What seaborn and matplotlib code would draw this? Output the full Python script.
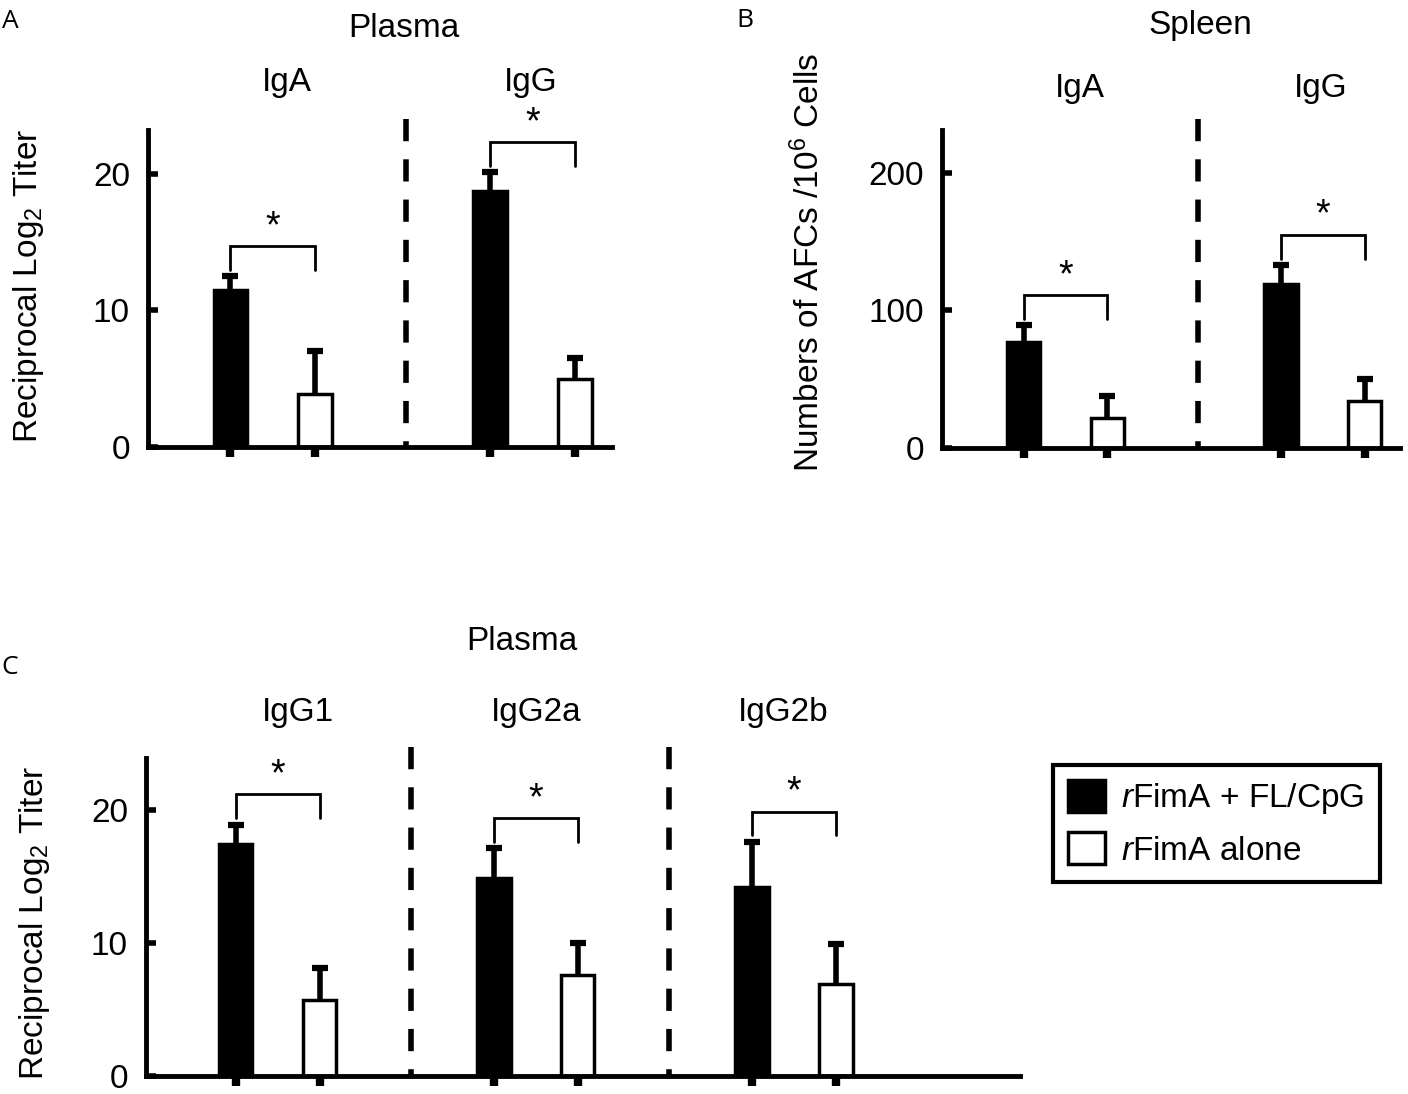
import matplotlib
matplotlib.use("Agg")
import matplotlib.pyplot as plt
import matplotlib.transforms as mtransforms
from matplotlib.container import BarContainer
import numpy as np
import pandas as pd
import seaborn as sns

W, H = 1408, 1094

combo = r"$\mathit{r}$FimA + FL/CpG"
alone = r"$\mathit{r}$FimA alone"
treatments = [combo, alone]

# A: plasma, reciprocal log2 titer
isotypes = ["IgA", "IgG"]
plasma_combo = [11.5, 18.7]
plasma_combo_err = [1.0, 1.4]
plasma_alone = [3.9, 5.0]
plasma_alone_err = [3.1, 1.5]

# B: spleen, AFCs per 10^6 cells
spleen_combo = [77, 119]
spleen_combo_err = [12, 14]
spleen_alone = [22, 34]
spleen_alone_err = [16, 16]

# C: plasma IgG subclasses
subclasses = ["IgG1", "IgG2a", "IgG2b"]
sub_combo = [17.4, 14.9, 14.2]
sub_combo_err = [1.5, 2.2, 3.4]
sub_alone = [5.7, 7.6, 6.9]
sub_alone_err = [2.4, 2.4, 3.0]


def px(x, y):
    return x / W, 1 - y / H


def add_axes(fig, left, top, right, bottom):
    return fig.add_axes([left / W, 1 - bottom / H, (right - left) / W, (bottom - top) / H])


def bar_containers(ax):
    return [c for c in ax.containers if isinstance(c, BarContainer)]


def draw_panel(ax, groups, combo_vals, combo_err, alone_vals, alone_err, ymax, yticks, xlim):
    df = pd.DataFrame({
        "group": groups * 2,
        "treatment": [combo] * len(groups) + [alone] * len(groups),
        "value": list(combo_vals) + list(alone_vals),
    })
    sns.barplot(data=df, x="group", y="value", hue="treatment", order=groups,
                hue_order=treatments, palette={combo: "black", alone: "white"},
                edgecolor="black", linewidth=2.5, width=0.65, gap=0.6,
                saturation=1, errorbar=None, legend=False, ax=ax)

    centers, tops = [], []
    for cont, vals, errs in zip(bar_containers(ax), [combo_vals, alone_vals], [combo_err, alone_err]):
        xs = [b.get_x() + b.get_width() / 2 for b in cont]
        eb = ax.errorbar(xs, vals, yerr=[np.zeros(len(errs)), errs], fmt="none",
                         ecolor="black", elinewidth=4, capsize=6, capthick=4.5,
                         zorder=3, clip_on=False)
        eb[1][0].set_visible(False)  # upper error only, no cap at the bar top
        centers.append(xs)
        tops.append(np.add(vals, errs))

    # significance brackets
    for i in range(len(groups)):
        x0, x1 = centers[0][i], centers[1][i]
        base = max(tops[0][i], tops[1][i]) + 0.02 * ymax
        top = base + 0.075 * ymax
        ax.plot([x0, x0, x1, x1], [base, top, top, base], color="black", lw=2,
                clip_on=False, solid_joinstyle="miter")
        ax.text((x0 + x1) / 2, top + 0.028 * ymax, "*", ha="center", va="baseline",
                fontsize=27, clip_on=False)

    # dashed separators
    for i in range(len(groups) - 1):
        ax.plot([i + 0.515] * 2, [ymax * 1.035, 0], color="black", lw=4,
                ls=(0, (4, 3.25)), clip_on=False)

    ax.set_xlim(*xlim)
    ax.set_ylim(0, ymax)
    ax.set_yticks(yticks)
    ax.set_xticks(sorted(centers[0] + centers[1]), labels=[""] * (2 * len(groups)))
    ax.set_xlabel("")
    ax.set_ylabel("")
    ax.tick_params(axis="y", direction="in", length=7, width=4, labelsize=24, pad=13)
    ax.tick_params(axis="x", direction="out", length=7, width=6)
    sns.despine(ax=ax)
    for side in ("left", "bottom"):
        ax.spines[side].set_linewidth(3.5)


def group_labels(fig, ax, labels, shifts, baseline):
    trans = mtransforms.blended_transform_factory(ax.transData, fig.transFigure)
    for i, (lab, s) in enumerate(zip(labels, shifts)):
        ax.text(i + s, 1 - baseline / H, lab, transform=trans, ha="center",
                va="baseline", fontsize=24)


def main():
    sns.set_theme(style="ticks")
    plt.rcParams["font.family"] = ["Liberation Sans", "DejaVu Sans"]
    plt.rcParams["mathtext.fontset"] = "custom"
    plt.rcParams["mathtext.rm"] = "Liberation Sans"
    plt.rcParams["mathtext.it"] = "Liberation Sans:italic"
    for key in ("text.color", "axes.labelcolor", "xtick.color", "ytick.color", "axes.edgecolor"):
        plt.rcParams[key] = "black"

    fig = plt.figure(figsize=(W / 100, H / 100), dpi=100)

    ax_a = add_axes(fig, 148, 130, 612, 447)
    draw_panel(ax_a, isotypes, plasma_combo, plasma_combo_err, plasma_alone,
               plasma_alone_err, 23.2, [0, 10, 20], (-0.48, 1.306))

    ax_b = add_axes(fig, 942, 130, 1400, 448)
    draw_panel(ax_b, isotypes, spleen_combo, spleen_combo_err, spleen_alone,
               spleen_alone_err, 231, [0, 100, 200], (-0.48, 1.30))

    ax_c = add_axes(fig, 146, 758, 1020, 1076)
    draw_panel(ax_c, subclasses, sub_combo, sub_combo_err, sub_alone,
               sub_alone_err, 23.9, [0, 10, 20], (-0.51, 2.876))

    fig.text(*px(404, 37), "Plasma", ha="center", va="baseline", fontsize=24)
    fig.text(*px(1200, 34), "Spleen", ha="center", va="baseline", fontsize=24)
    fig.text(*px(522, 650), "Plasma", ha="center", va="baseline", fontsize=24)

    group_labels(fig, ax_a, isotypes, [0.055, -0.006], 91)
    group_labels(fig, ax_b, isotypes, [0.056, -0.01], 97)
    group_labels(fig, ax_c, subclasses, [0.08, 0.0, -0.04], 721)

    fig.text(*px(29, 286), "Reciprocal Log$_2$ Titer", rotation=90,
             ha="center", va="center", fontsize=24)
    fig.text(*px(809, 262), "Numbers of AFCs /10$^6$ Cells", rotation=90,
             ha="center", va="center", fontsize=24)
    fig.text(*px(35, 923), "Reciprocal Log$_2$ Titer", rotation=90,
             ha="center", va="center", fontsize=24)

    for letter, (x, y) in zip("ABC", [(2, 28), (736, 27), (1, 674)]):
        fig.text(*px(x, y), letter, ha="left", va="baseline", fontsize=19,
                 family=["Open Sans", "DejaVu Sans"])

    handles = [cont.patches[0] for cont in bar_containers(ax_c)]
    leg = fig.legend(handles, treatments, loc="upper left", bbox_to_anchor=px(1053, 765),
                     borderaxespad=0, frameon=True, fancybox=False, edgecolor="black",
                     framealpha=1, fontsize=24, handlelength=1.1, handleheight=1.1,
                     handletextpad=0.5, labelspacing=0.48, borderpad=0.45)
    leg.get_frame().set_linewidth(3)

    fig.savefig("out.png", dpi=100)


if __name__ == "__main__":
    main()
